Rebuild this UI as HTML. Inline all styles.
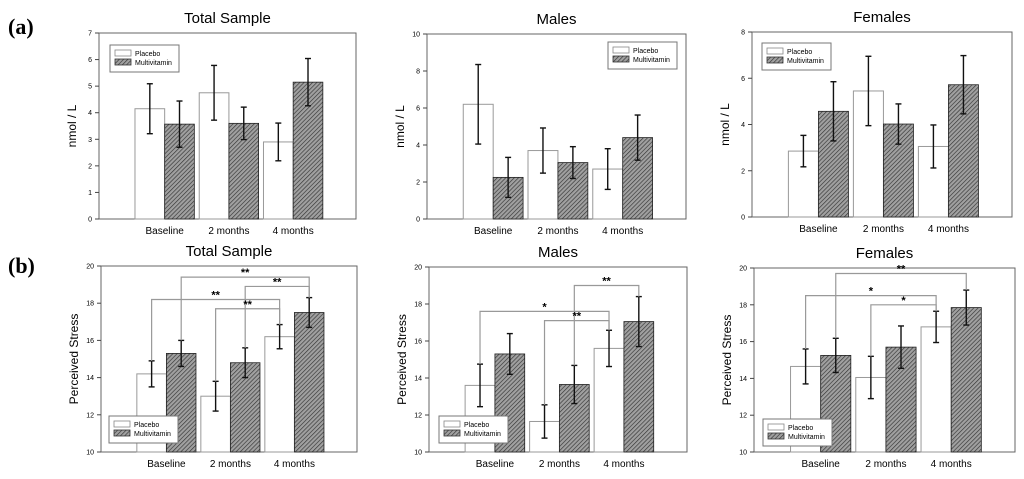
<!DOCTYPE html>
<html><head><meta charset="utf-8"><style>
body{margin:0;background:#fff;}
svg{display:block;font-family:"Liberation Sans",Arial,sans-serif;}
</style></head><body>
<svg id="fig" width="1024" height="479" viewBox="0 0 1024 479">
<defs>
<pattern id="hatch" patternUnits="userSpaceOnUse" width="3" height="3" patternTransform="rotate(45)">
<rect width="3" height="3" fill="#a0a0a0"/><line x1="0" y1="0" x2="0" y2="3" stroke="#333" stroke-width="1.3"/>
</pattern>
</defs>
<text x="8" y="34" font-family="Liberation Serif,serif" font-weight="bold" font-size="22">(a)</text>
<text x="8" y="273" font-family="Liberation Serif,serif" font-weight="bold" font-size="22">(b)</text>
</svg>
<script>
const categories = ["Baseline","2 months","4 months"];
const seriesNames = ["Placebo","Multivitamin"];
// panel a: nmol/L
const a1Placebo = [4.15,4.75,2.9],  a1PlaceboErr = [0.94,1.03,0.71];
const a1Multi   = [3.57,3.6,5.15],  a1MultiErr   = [0.87,0.61,0.89];
const a2Placebo = [6.2,3.7,2.7],    a2PlaceboErr = [2.15,1.22,1.1];
const a2Multi   = [2.25,3.05,4.4],  a2MultiErr   = [1.08,0.86,1.22];
const a3Placebo = [2.85,5.45,3.05], a3PlaceboErr = [0.68,1.5,0.93];
const a3Multi   = [4.57,4.02,5.72], a3MultiErr   = [1.28,0.87,1.26];
// panel b: perceived stress
const b1Placebo = [14.2,13.0,16.2],  b1PlaceboErr = [0.7,0.8,0.65];
const b1Multi   = [15.3,14.8,17.5],  b1MultiErr   = [0.7,0.8,0.8];
const b2Placebo = [13.6,11.65,15.6], b2PlaceboErr = [1.15,0.9,0.98];
const b2Multi   = [15.3,13.65,17.05],b2MultiErr   = [1.1,1.03,1.35];
const b3Placebo = [14.65,14.05,16.8],b3PlaceboErr = [0.95,1.15,0.85];
const b3Multi   = [15.25,15.7,17.85],b3MultiErr   = [0.93,1.15,0.95];
// significance brackets: [fromBar, toBar, level, label]
const b1Sig = [[1,5,19.4,"**"],[3,5,18.9,"**"],[0,4,18.2,"**"],[2,4,17.7,"**"]];
const b2Sig = [[3,5,19.0,"**"],[0,4,17.6,"*"],[2,4,17.1,"**"]];
const b3Sig = [[1,5,19.7,"**"],[0,4,18.5,"*"],[2,4,18.0,"*"]];
const a1Ticks=[0,1,2,3,4,5,6,7], a2Ticks=[0,2,4,6,8,10], a3Ticks=[0,2,4,6,8], bTicks=[10,12,14,16,18,20];

const NS="http://www.w3.org/2000/svg";
const svg=document.getElementById('fig');
function mk(tag,attrs,parent){const e=document.createElementNS(NS,tag);for(const k in attrs)e.setAttribute(k,attrs[k]);(parent||svg).appendChild(e);return e;}

const panels=[
 {id:"a1",title:"Total Sample",ytitle:"nmol / L",L:99,R:356,T:33,B:219,ticks:a1Ticks,p:a1Placebo,pe:a1PlaceboErr,m:a1Multi,me:a1MultiErr,sig:[],leg:[110,45]},
 {id:"a2",title:"Males",ytitle:"nmol / L",L:427,R:686,T:34,B:219,ticks:a2Ticks,p:a2Placebo,pe:a2PlaceboErr,m:a2Multi,me:a2MultiErr,sig:[],leg:[608,42]},
 {id:"a3",title:"Females",ytitle:"nmol / L",L:752,R:1012,T:32,B:217,ticks:a3Ticks,p:a3Placebo,pe:a3PlaceboErr,m:a3Multi,me:a3MultiErr,sig:[],leg:[762,43]},
 {id:"b1",title:"Total Sample",ytitle:"Perceived Stress",L:101,R:357,T:266,B:452,ticks:bTicks,p:b1Placebo,pe:b1PlaceboErr,m:b1Multi,me:b1MultiErr,sig:b1Sig,leg:[109,416]},
 {id:"b2",title:"Males",ytitle:"Perceived Stress",L:429,R:687,T:267,B:452,ticks:bTicks,p:b2Placebo,pe:b2PlaceboErr,m:b2Multi,me:b2MultiErr,sig:b2Sig,leg:[439,416]},
 {id:"b3",title:"Females",ytitle:"Perceived Stress",L:754,R:1015,T:268,B:452,ticks:bTicks,p:b3Placebo,pe:b3PlaceboErr,m:b3Multi,me:b3MultiErr,sig:b3Sig,leg:[763,419]}
];

panels.forEach(P=>{
 const g=mk('g',{});
 
 
 const W=P.R-P.L, ymin=P.ticks[0], ymax=P.ticks[P.ticks.length-1];
 const y=v=>P.B-(v-ymin)/(ymax-ymin)*(P.B-P.T);
 const bw=0.1155*W, stride=0.25*W, x0=P.L+0.14*W;
 const barX=i=>x0+Math.floor(i/2)*stride+(i%2)*bw;
 const barC=i=>barX(i)+bw/2;
 const t=mk('text',{x:(P.L+P.R)/2,y:P.T-10,'text-anchor':'middle','font-size':15},g);t.textContent=P.title;
 
 
 const yt=mk('text',{transform:`translate(${P.L-23},${(P.T+P.B)/2}) rotate(-90)`,'text-anchor':'middle','font-size':12},g);yt.textContent=P.ytitle;
 
 
 const fr=mk('rect',{x:P.L,y:P.T,width:W,height:P.B-P.T,fill:'none',stroke:'#666','stroke-width':1},g);
 
 
 P.ticks.forEach(v=>{
  mk('line',{x1:P.L-4,x2:P.L,y1:y(v),y2:y(v),stroke:'#444'},g);
  const tl=mk('text',{x:P.L-7,y:y(v)+2.5,'text-anchor':'end','font-size':7},g);tl.textContent=v;
  
  
 });
 categories.forEach((c,k)=>{
  const xl=mk('text',{x:barX(2*k)+bw,y:P.B+15,'text-anchor':'middle','font-size':10},g);xl.textContent=c;
  
  
 });
 for(let i=0;i<6;i++){
  const k=Math.floor(i/2), isM=i%2==1;
  const v=isM?P.m[k]:P.p[k], e=isM?P.me[k]:P.pe[k];
  const r=mk('rect',{x:barX(i),y:y(v),width:bw,height:P.B-y(v),fill:isM?'url(#hatch)':'#fff',stroke:isM?'#222':'#999','stroke-width':isM?0.8:1},g);
  
  
  const cx=barC(i);
  const eg=mk('g',{stroke:'#111','stroke-width':1.4},g);
  
  
  mk('line',{x1:cx,x2:cx,y1:y(v+e),y2:y(v-e)},eg);
  mk('line',{x1:cx-3,x2:cx+3,y1:y(v+e),y2:y(v+e)},eg);
  mk('line',{x1:cx-3,x2:cx+3,y1:y(v-e),y2:y(v-e)},eg);
 }
 const tops=i=>{const k=Math.floor(i/2);return i%2?P.m[k]+P.me[k]:P.p[k]+P.pe[k];};
 P.sig.forEach(s=>{
  const [a,b,lv,lab]=s;
  const sg=mk('g',{},g);
  
  
  mk('polyline',{points:`${barC(a)},${y(tops(a))} ${barC(a)},${y(lv)} ${barC(b)},${y(lv)} ${barC(b)},${y(tops(b))}`,fill:'none',stroke:'#999','stroke-width':1.2},sg);
  const st=mk('text',{x:(barC(a)+barC(b))/2,y:y(lv)-1,'text-anchor':'middle','font-size':11,'font-weight':'bold'},sg);st.textContent=lab;
 });
 const [lx,ly]=P.leg;
 const lg=mk('g',{},g);
 
 
 mk('rect',{x:lx,y:ly,width:69,height:27,fill:'#fff',stroke:'#777'},lg);
 seriesNames.forEach((n,j)=>{
  mk('rect',{x:lx+5,y:ly+5+j*9,width:16,height:6,fill:j?'url(#hatch)':'#fff',stroke:j?'#333':'#888','stroke-width':0.8},lg);
  const lt=mk('text',{x:lx+25,y:ly+11+j*9,'font-size':7},lg);lt.textContent=n;
  
  
 });
});
</script>
</body></html>
